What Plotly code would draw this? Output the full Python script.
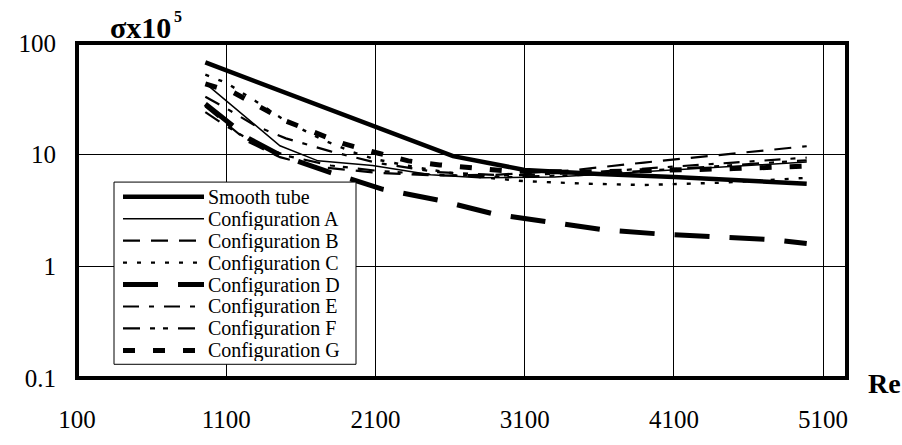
import plotly.graph_objects as go

# Friction factor sigma (x10^5) versus Reynolds number
re_smooth = [960, 1230, 1460, 2620, 3100, 3600, 4100, 4600, 4990]
sig_smooth = [67, 49, 38, 9.7, 7.3, 6.7, 6.3, 5.9, 5.5]

re_a = [975, 1215, 1460, 1715, 2080, 2470, 2800, 3300, 3900, 4500, 4990]
sig_a = [42, 22.5, 12, 8.8, 8.0, 6.6, 6.2, 6.3, 7.0, 7.8, 8.6]

re_b = [960, 1100, 1250, 1460, 1700, 2100, 2500, 2900, 3400, 3900, 4500, 4990]
sig_b = [27, 19, 13, 9.5, 7.8, 6.9, 6.5, 6.6, 7.2, 8.5, 10.2, 11.9]

re_c = [960, 1100, 1300, 1500, 1750, 1950, 2100, 2350, 2560, 2800, 3090, 3500, 3900, 4400, 4990]
sig_c = [52, 44, 30, 20, 13.5, 10.5, 9.1, 7.8, 7.0, 6.3, 5.8, 5.5, 5.35, 5.6, 6.2]

re_d = [960, 1100, 1250, 1460, 1800, 2150, 2530, 2900, 3270, 3630, 4000, 4380, 4760, 4990]
sig_d = [28.4, 20, 14, 9.9, 6.9, 4.9, 3.9, 2.93, 2.49, 2.12, 1.95, 1.84, 1.73, 1.6]

re_e = [960, 1100, 1300, 1500, 1800, 2100, 2500, 3000, 3500, 4000, 4500, 4990]
sig_e = [33, 26, 18, 14, 10.7, 8.5, 7.0, 6.5, 6.9, 7.7, 8.5, 9.4]

re_f = [960, 1100, 1300, 1500, 1800, 2100, 2500, 3000, 3500, 4000, 4500, 4990]
sig_f = [24, 18, 12.5, 9.8, 8.0, 7.2, 6.6, 6.3, 6.6, 7.3, 8.1, 8.9]

re_g = [960, 1150, 1500, 1880, 2120, 2320, 2530, 2730, 3000, 3500, 4000, 4500, 4990]
sig_g = [43, 36, 20, 12.6, 10.3, 8.8, 8.1, 7.6, 7.1, 7.0, 7.2, 7.5, 7.9]

names = ["Smooth tube", "Configuration A", "Configuration B", "Configuration C",
         "Configuration D", "Configuration E", "Configuration F", "Configuration G"]
xs = [re_smooth, re_a, re_b, re_c, re_d, re_e, re_f, re_g]
ys = [sig_smooth, sig_a, sig_b, sig_c, sig_d, sig_e, sig_f, sig_g]

# line styles: (width, dash pattern)
styles = [
    (4.5, "solid"),
    (1.5, "solid"),
    (2.2, "17px,11px"),
    (2.4, "4px,10px"),
    (5, "35px,20px"),
    (2.2, "16px,10px,5px,10px"),
    (2.2, "17px,10px,5px,8px,5px,10px"),
    (5, "12px,18px"),
]

x_ticks = [100, 1100, 2100, 3100, 4100, 5100]
y_ticks = [0.1, 1, 10, 100]
y_ticklabels = ["0.1", "1", "10", "100"]

W, H = 902, 445
ML, MR, MT, MB = 77, 55, 43, 60
PW, PH = W - ML - MR, H - MT - MB

FONT = "Times New Roman, Liberation Serif, Times, serif"

fig = go.Figure()
for x, y, name, (w, d) in zip(xs, ys, names, styles):
    fig.add_trace(go.Scatter(x=x, y=y, mode="lines", name=name,
                             line=dict(color="black", width=w, dash=d),
                             showlegend=False))


def px_x(p):
    return (p - ML) / PW


def px_y(p):
    return (H - MB - p) / PH


shapes = []
annotations = []

# plot frame
shapes.append(dict(type="rect", xref="paper", yref="paper", x0=0, x1=1, y0=0, y1=1,
                   line=dict(color="black", width=4), layer="above"))

# legend box with hand-placed rows
lx0, lx1, ly0, ly1 = 114, 356, 185, 371
shapes.append(dict(type="rect", xref="paper", yref="paper",
                   x0=px_x(lx0), x1=px_x(lx1), y0=px_y(ly1), y1=px_y(ly0),
                   line=dict(color="black", width=1), fillcolor="white", layer="above"))
row0, row_step = 200, 22.4
for i, (name, (w, d)) in enumerate(zip(names, styles)):
    yy = px_y(row0 + i * row_step)
    shapes.append(dict(type="line", xref="paper", yref="paper",
                       x0=px_x(123), x1=px_x(204), y0=yy, y1=yy,
                       line=dict(color="black", width=w, dash=d), layer="above"))
    annotations.append(dict(text=name, xref="paper", yref="paper",
                            x=px_x(208), y=yy, xanchor="left", yanchor="middle",
                            height=22, borderpad=0, borderwidth=0,
                            showarrow=False, font=dict(family=FONT, size=20, color="black")))

# axis titles
annotations.append(dict(text="<b>σx10</b>", xref="paper", yref="paper",
                        x=px_x(108), y=px_y(27), xanchor="left", yanchor="middle",
                        showarrow=False, font=dict(family=FONT, size=30, color="black")))
annotations.append(dict(text="<b>5</b>", xref="paper", yref="paper",
                        x=px_x(172), y=px_y(16), xanchor="left", yanchor="middle",
                        showarrow=False, font=dict(family=FONT, size=16, color="black")))
annotations.append(dict(text="<b>Re</b>", xref="paper", yref="paper",
                        x=px_x(866), y=px_y(391), xanchor="left", yanchor="middle",
                        showarrow=False, font=dict(family=FONT, size=28, color="black")))

fig.update_layout(
    width=W, height=H,
    margin=dict(l=ML, r=MR, t=MT, b=MB, pad=0),
    paper_bgcolor="white", plot_bgcolor="white",
    showlegend=False,
    shapes=shapes, annotations=annotations,
    font=dict(family=FONT, color="black"),
)
fig.update_xaxes(range=[100, 5260], tickvals=x_ticks, ticks="",
                 showgrid=True, gridcolor="black", gridwidth=1,
                 zeroline=False, showline=False,
                 tickfont=dict(family=FONT, size=25, color="black"),
                 ticklabelstandoff=24)
fig.update_yaxes(type="log", range=[-1, 2], tickvals=y_ticks, ticktext=y_ticklabels,
                 ticks="", showgrid=True, gridcolor="black", gridwidth=1,
                 zeroline=False, showline=False,
                 tickfont=dict(family=FONT, size=25, color="black"),
                 ticklabelstandoff=20)

fig.write_html("out.html")
